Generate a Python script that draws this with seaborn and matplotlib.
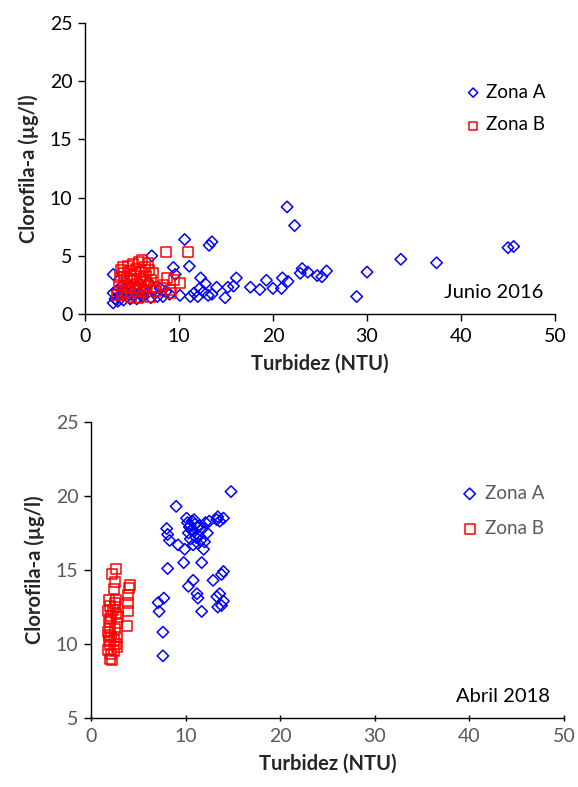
import matplotlib
matplotlib.use("Agg")
import matplotlib.pyplot as plt
import seaborn as sns
import numpy as np
import pandas as pd

# ---------------- DATA ----------------
# Junio 2016
xA16 = [3.0,3.0,3.0,3.2,3.4,3.5,3.7,3.9,4.1,4.2,4.5,4.6,4.8,5.0,5.2,5.5,5.6,5.8,6.1,6.3,
        6.5,6.8,7.0,7.1,7.3,7.7,8.0,8.3,8.6,9.0,9.4,9.6,10.1,10.6,11.1,11.2,11.6,12.0,12.2,12.3,
        12.6,12.8,13.1,13.2,13.5,13.5,14.0,14.9,15.2,15.8,16.1,17.6,18.6,19.3,20.0,20.9,21.0,21.5,21.6,22.3,
        22.9,23.1,23.7,24.7,25.2,25.7,28.9,30.0,33.6,37.4,45.0,45.6]
yA16 = [3.4,1.8,0.95,1.3,2.0,1.1,1.6,2.4,1.2,1.9,1.5,2.6,1.3,2.0,1.6,1.3,2.3,1.8,1.5,2.1,
        1.7,2.7,1.4,5.0,2.0,1.5,2.2,1.5,1.9,1.7,4.0,3.4,1.6,6.4,4.1,1.5,1.8,1.5,2.2,3.1,
        1.9,2.6,1.6,5.9,6.2,1.7,2.3,1.4,2.3,2.4,3.1,2.3,2.1,2.9,2.2,2.2,3.1,9.2,2.8,7.6,
        3.5,3.9,3.6,3.3,3.2,3.7,1.5,3.6,4.7,4.4,5.7,5.8]

xB16 = [3.4,3.6,3.7,3.8,3.9,4.0,4.1,4.2,4.3,4.4,4.5,4.6,4.7,4.8,4.9,5.0,5.1,5.2,5.3,5.4,
        5.5,5.6,5.7,5.8,5.9,6.0,6.1,6.2,6.3,6.4,6.5,6.6,6.7,6.8,6.9,7.0,7.2,7.4,8.6,11.0,
        8.7,9.0,9.2,10.1,9.5,8.3,3.9,7.6]
yB16 = [1.6,2.5,3.2,3.8,2.0,4.0,2.8,3.5,1.8,2.4,3.1,4.1,2.2,3.7,1.5,2.9,4.3,3.3,2.0,3.9,
        2.6,1.4,4.5,3.0,2.3,3.6,4.6,1.9,2.8,4.0,3.3,2.5,4.4,3.8,1.5,2.9,3.5,2.3,5.3,5.3,
        3.1,2.1,1.8,2.7,2.9,2.5,1.6,2.0]

# Abril 2018
xA18 = [14.8,9.0,8.0,8.1,8.3,9.2,9.9,9.8,8.1,11.7,10.1,13.3,14.0,13.4,12.0,11.9,10.8,10.8,10.3,11.2,
        11.3,11.7,12.9,13.8,14.0,13.3,13.6,14.0,13.8,13.4,7.1,7.7,7.2,7.6,7.6,
        10.2,10.4,10.5,10.6,10.3,10.7,10.9,11.0,11.2,11.4,11.5,11.8,12.1,11.6,11.1,10.5,12.3,11.3,12.5,13.6,10.9]
yA18 = [20.3,19.3,17.8,17.4,17.0,16.7,16.4,15.5,15.1,15.5,18.5,18.4,18.5,18.6,16.9,16.4,16.7,14.3,13.9,13.4,
        13.1,12.2,14.3,14.7,14.9,13.2,13.4,12.9,12.6,12.5,12.8,13.1,12.2,10.8,9.2,
        18.2,17.9,18.0,17.7,17.5,18.3,17.6,18.1,17.9,17.3,18.0,17.8,18.2,17.0,17.2,17.1,17.5,16.8,18.3,18.3,18.4]

xB18 = [2.6,2.2,2.5,2.4,4.1,4.0,3.9,3.9,3.9,3.8,
        1.9,2.0,1.8,2.1,1.9,2.0,1.8,2.1,1.9,2.0,1.8,2.1,2.0,2.2,1.9,2.0,2.3,
        2.5,2.6,2.7,2.5,2.8,2.6,2.4,2.7,2.5,2.9,2.6,2.4]
yB18 = [15.1,14.7,14.2,13.7,14.0,13.8,13.3,12.8,12.2,11.2,
        13.0,12.6,12.2,11.9,11.5,11.1,10.8,10.5,10.2,9.9,9.6,9.3,9.0,8.9,10.6,11.7,12.3,
        12.8,12.0,11.4,11.0,10.5,10.0,9.5,9.8,12.5,11.8,13.0,10.3]

zones = ["Zona A", "Zona B"]
xticks = [0, 10, 20, 30, 40, 50]
yticks_top = [0, 5, 10, 15, 20, 25]
yticks_bot = [5, 10, 15, 20, 25]

# ---------------- STYLE ----------------
sns.set_style("white")
plt.rcParams['font.family'] = ['Lato', 'DejaVu Sans']

BLUE = "#0000FF"
RED = "#FF0000"
FS_TICK = 14
FS_LAB = 14.5
FS_TXT = 14.5

fig = plt.figure(figsize=(5.78, 7.87), dpi=100)
ax1 = fig.add_axes([85/578, 1-314/787, (555-85)/578, (314-23)/787])
ax2 = fig.add_axes([91/578, 1-718/787, (564-91)/578, (718-422)/787])


def draw(ax, xa, ya, xb, yb, tickcol, tickdir_x):
    sns.scatterplot(x=xa, y=ya, ax=ax, marker="D", s=34, facecolor="none",
                    edgecolor=BLUE, linewidth=1.1, label=zones[0], zorder=3)
    sns.scatterplot(x=xb, y=yb, ax=ax, marker="s", s=52, facecolor="none",
                    edgecolor=RED, linewidth=1.1, label=zones[1], zorder=4)
    ax.set_xlim(0, 50)
    ax.set_xticks(xticks)
    for s in ["top", "right"]:
        ax.spines[s].set_visible(False)
    for s in ["left", "bottom"]:
        ax.spines[s].set_color("black")
        ax.spines[s].set_linewidth(1.0)
    ax.tick_params(axis="y", direction="out", length=5, width=1, colors="black",
                   labelcolor=tickcol, labelsize=FS_TICK, left=True, pad=4)
    ax.tick_params(axis="x", direction=tickdir_x, length=5, width=1, colors="black",
                   labelcolor=tickcol, labelsize=FS_TICK, bottom=True, pad=5)
    ax.set_xlabel("Turbidez (NTU)", fontsize=FS_LAB, fontweight="bold", labelpad=6)
    ax.set_ylabel("Clorofila-a (µg/l)", fontsize=FS_LAB, fontweight="bold", labelpad=8)


draw(ax1, xA16, yA16, xB16, yB16, "black", "out")
ax1.set_ylim(0, 25)
ax1.set_yticks(yticks_top)
leg1 = ax1.legend(loc="upper left", bbox_to_anchor=(0.77, 0.85), frameon=False,
                  fontsize=13.5, markerscale=0.8, handletextpad=0.2, labelspacing=0.85,
                  handlelength=1.0, labelcolor="black")
ax1.text(0.975, 0.045, "Junio 2016", transform=ax1.transAxes, ha="right", va="bottom",
         fontsize=FS_TXT, color="black")

draw(ax2, xA18, yA18, xB18, yB18, "#595959", "inout")
ax2.set_ylim(5, 25)
ax2.set_yticks(yticks_bot)
leg2 = ax2.legend(loc="upper left", bbox_to_anchor=(0.745, 0.845), frameon=False,
                  fontsize=13.5, markerscale=1.0, handletextpad=0.3, labelspacing=0.95,
                  handlelength=1.0, labelcolor="#595959")
ax2.text(0.97, 0.045, "Abril 2018", transform=ax2.transAxes, ha="right", va="bottom",
         fontsize=FS_TXT, color="black")

fig.savefig("out.png", dpi=100)
